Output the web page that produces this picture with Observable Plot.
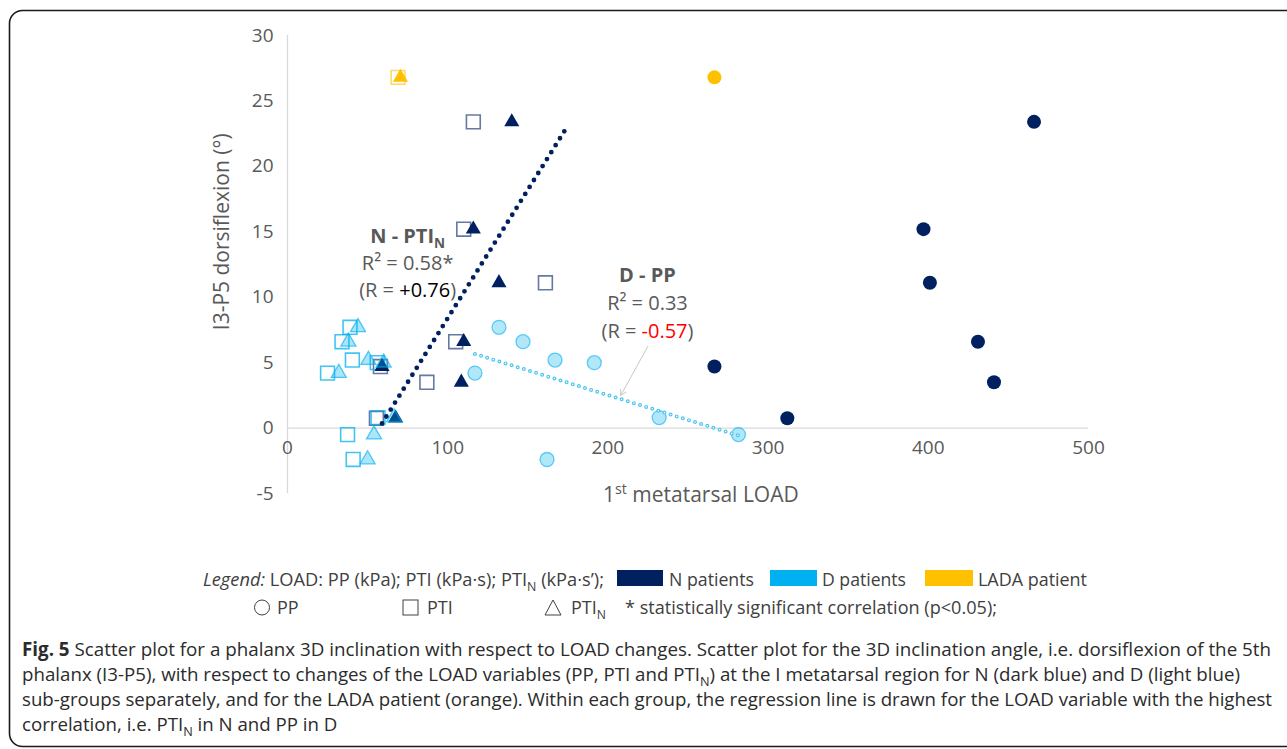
<!DOCTYPE html>
<html><head><meta charset="utf-8">
<script src="https://cdn.jsdelivr.net/npm/d3@7"></script>
<script src="https://cdn.jsdelivr.net/npm/@observablehq/plot@0.6"></script>
<style>
html,body{margin:0;padding:0;background:#fff;width:1287px;height:749px;overflow:hidden;}
#wrap{position:relative;width:1287px;height:749px;}
#chart{position:absolute;left:0;top:0;}
#overlay{position:absolute;left:0;top:0;pointer-events:none;}
</style></head>
<body><div id="wrap"><div id="chart"></div><svg id="overlay" width="1287" height="749"></svg></div>
<script>
// ---------------- data ----------------
// N patients (dark blue)
const dorsiN = [23.4, 15.2, 11.1, 6.6, 3.5, 4.7, 0.75];
const ppN    = [466, 397, 401, 431, 441, 266.5, 312];
const ptiN   = [116, 110, 161, 105, 87, 58, 55.5];
const ptinN  = [140, 116, 132, 110, 108.5, 59, 67.5];
// D patients (light blue)
const dorsiD = [7.7, 6.6, 5.2, 5.0, 4.2, 0.8, -0.5, -2.4];
const ppD    = [132, 147, 167, 191.5, 117, 232, 281.5, 162];
const ptiD   = [39, 34, 40.5, 56, 25, 56.5, 37.5, 41];
const ptinD  = [44, 38, 50.5, 60, 32, 66.5, 54, 50];
// LADA patient (orange)
const dorsiL = [26.8];
const ppL    = [266.5];
const ptiL   = [69];
const ptinL  = [70.5];

const xTicks = [0, 100, 200, 300, 400, 500];
const yTicks = [-5, 0, 5, 10, 15, 20, 25, 30];
const nTrendForward = 33; // forward forecast of N trendline (LOAD units)

const navy = "#002060", light = "#00b0f0", orange = "#ffc000", gray = "#595959";

const rows = (xs, ys) => xs.map((x, i) => ({x, y: ys[i]}));
function linReg(xs, ys) {
  const mx = d3.mean(xs), my = d3.mean(ys);
  const b = d3.sum(xs, (x, i) => (x - mx) * (ys[i] - my)) / d3.sum(xs, x => (x - mx) ** 2);
  return {a: my - b * mx, b};
}
const fitN = linReg(ptinN, dorsiN);
const fitD = linReg(ppD, dorsiD);
const lineN = [d3.min(ptinN), d3.max(ptinN) + nTrendForward].map(x => ({x, y: fitN.a + fitN.b * x}));
const lineD = [d3.min(ppD), d3.max(ppD)].map(x => ({x, y: fitD.a + fitD.b * x}));

const fnt = 20;
const plot = Plot.plot({
  width: 1287, height: 520,
  marginLeft: 287, marginRight: 199, marginTop: 35, marginBottom: 27,
  x: {domain: [0, 500], axis: null},
  y: {domain: [-5, 30]},
  style: {fontFamily: "'Open Sans', sans-serif", background: "transparent", color: gray, overflow: "visible"},
  marks: [
    Plot.ruleY([0], {stroke: "#d9d9d9", strokeWidth: 1.3}),
    Plot.ruleX([0], {stroke: "#d9d9d9", strokeWidth: 1.3}),
    Plot.axisY({ticks: yTicks, tickSize: 0, tickPadding: 14, label: null, fontSize: 19, tickFormat: d => String(d)}),
    Plot.text(xTicks, {x: d => d, y: 0, dy: 20, text: d => String(d), fontSize: 19, fill: gray}),
    Plot.text(["I3-P5 dorsiflexion (°)"], {x: 0, y: 15, dx: -65, rotate: -90, fontSize: 21, fill: gray}),
    Plot.text(["1st metatarsal LOAD"], {x: 258, y: -5, dy: 2, fontSize: 21, fill: gray}),
    // PTI squares
    Plot.dot(rows(ptiN, dorsiN), {x: "x", y: "y", symbol: "square", r: 7.8, fill: "none", stroke: navy, strokeOpacity: 0.6, strokeWidth: 1.6}),
    Plot.dot(rows(ptiD, dorsiD), {x: "x", y: "y", symbol: "square", r: 7.8, fill: "none", stroke: light, strokeOpacity: 0.75, strokeWidth: 1.6}),
    Plot.dot(rows(ptiL, dorsiL), {x: "x", y: "y", symbol: "square", r: 7.8, fill: "none", stroke: orange, strokeOpacity: 0.6, strokeWidth: 1.6}),
    // PTI_N triangles
    Plot.dot(rows(ptinN, dorsiN), {x: "x", y: "y", symbol: "triangle", r: 5.6, fill: navy, stroke: "none"}),
    Plot.dot(rows(ptinD, dorsiD), {x: "x", y: "y", symbol: "triangle", r: 5.6, fill: light, fillOpacity: 0.33, stroke: light, strokeOpacity: 0.65, strokeWidth: 1.3}),
    Plot.dot(rows(ptinL, dorsiL), {x: "x", y: "y", symbol: "triangle", r: 5.6, fill: orange, stroke: "none"}),
    // PP circles
    Plot.dot(rows(ppN, dorsiN), {x: "x", y: "y", r: 7, fill: navy, stroke: "none"}),
    Plot.dot(rows(ppD, dorsiD), {x: "x", y: "y", r: 7, fill: light, fillOpacity: 0.3, stroke: light, strokeOpacity: 0.6, strokeWidth: 1.3}),
    Plot.dot(rows(ppL, dorsiL), {x: "x", y: "y", r: 7, fill: orange, stroke: "none"}),
    // regression lines
    Plot.line(lineN, {x: "x", y: "y", stroke: navy, strokeWidth: 4.8, strokeDasharray: "0 8.2", strokeLinecap: "round"}),
    Plot.line(lineD, {x: "x", y: "y", stroke: "#4cc6f2", strokeWidth: 4, strokeDasharray: "0 6.4", strokeLinecap: "round"}),
    Plot.line(lineD, {x: "x", y: "y", stroke: "#ffffff", strokeWidth: 1.6, strokeDasharray: "0 6.4", strokeLinecap: "round"}),
    // annotations
    Plot.text(["N - PTI_N"], {x: 75, y: 14.65, fontSize: fnt, fontWeight: "bold", fill: gray}),
    Plot.text(["R² = 0.58*"], {x: 75, y: 12.55, fontSize: fnt, fill: gray}),
    Plot.text(["(R = +0.76)"], {x: 75, y: 10.5, fontSize: fnt, fill: gray}),
    Plot.text(["D - PP"], {x: 224.7, y: 11.67, fontSize: fnt, fontWeight: "bold", fill: gray}),
    Plot.text(["R² = 0.33"], {x: 224.7, y: 9.52, fontSize: fnt, fill: gray}),
    Plot.text(["(R = -0.57)"], {x: 224.7, y: 7.38, fontSize: fnt, fill: gray}),
    Plot.arrow([{x1: 225, y1: 6.25, x2: 208, y2: 2.5}], {x1: "x1", y1: "y1", x2: "x2", y2: "y2", stroke: "#c8c8c8", strokeWidth: 1, headLength: 9})
  ]
});
document.getElementById("chart").appendChild(plot);

// rich text (sub/superscripts, coloured parts)
function fillRich(el, segs, size) {
  el.text(null);
  let cur = 0;
  segs.forEach(s => {
    const target = s.sub ? size * 0.28 : s.sup ? -size * 0.38 : 0;
    const ts = el.append("tspan").text(s.t);
    if (target !== cur) ts.attr("dy", target - cur);
    cur = target;
    if (s.sub || s.sup) ts.attr("font-size", size * 0.68);
    if (s.fill) ts.attr("fill", s.fill);
    if (s.bold) ts.attr("font-weight", "bold");
    if (s.italic) ts.attr("font-style", "italic");
  });
}
const richMap = {
  "N - PTI_N": [{t: "N - PTI"}, {t: "N", sub: true}],
  "(R = +0.76)": [{t: "(R = "}, {t: "+0.76", fill: "#000000"}, {t: ")"}],
  "(R = -0.57)": [{t: "(R = "}, {t: "-0.57", fill: "#ff0000"}, {t: ")"}],
  "1st metatarsal LOAD": [{t: "1"}, {t: "st", sup: true}, {t: " metatarsal LOAD"}]
};
d3.select(plot).selectAll("text").each(function () {
  const segs = richMap[this.textContent];
  if (segs) fillRich(d3.select(this), segs, this.textContent === "1st metatarsal LOAD" ? 21 : fnt);
});

// ---------------- border, legend, caption ----------------
const ov = d3.select("#overlay");
ov.append("path")
  .attr("d", "M1287,10.5H22.5A13,13 0 0 0 9.5,23.5V733.5A13,13 0 0 0 22.5,746.5H1287")
  .attr("fill", "none").attr("stroke", "#1a1a1a").attr("stroke-width", 1.6);

function addText(x, y, segs, size, fill, len) {
  const t = ov.append("text").attr("x", x).attr("y", y)
    .attr("font-family", "'Open Sans', sans-serif").attr("font-size", size).attr("fill", fill);
  fillRich(t, segs, size);
  if (len) t.attr("textLength", len).attr("lengthAdjust", "spacingAndGlyphs");
  return t;
}
const lg = "#404040";
addText(203, 586, [{t: "Legend:", italic: true}, {t: " LOAD: PP (kPa); PTI (kPa·s); PTI"}, {t: "N", sub: true}, {t: " (kPa·s’);"}], 18, lg, 401);
const swatches = [
  {c: navy, x: 617, w: 46, label: "N patients", lx: 669, len: 85},
  {c: light, x: 770, w: 47, label: "D patients", lx: 822, len: 84},
  {c: orange, x: 925, w: 48, label: "LADA patient", lx: 978, len: 109}
];
swatches.forEach(s => {
  ov.append("rect").attr("x", s.x).attr("y", 570).attr("width", s.w).attr("height", 16).attr("fill", s.c);
  addText(s.lx, 586, [{t: s.label}], 18, lg, s.len);
});
ov.append("circle").attr("cx", 262).attr("cy", 607.5).attr("r", 7.5).attr("fill", "none").attr("stroke", lg).attr("stroke-width", 1);
addText(277, 614, [{t: "PP"}], 18, lg);
ov.append("rect").attr("x", 403).attr("y", 600).attr("width", 15).attr("height", 15).attr("fill", "none").attr("stroke", lg).attr("stroke-width", 1);
addText(427, 614, [{t: "PTI"}], 18, lg);
ov.append("path").attr("d", "M545,615L561,615L553,600Z").attr("fill", "none").attr("stroke", lg).attr("stroke-width", 1);
addText(571, 614, [{t: "PTI"}, {t: "N", sub: true}], 18, lg);
addText(625, 614, [{t: "* statistically significant correlation (p<0.05);"}], 18, lg, 372);

// caption
const capLines = [
  {segs: [{t: "Fig. 5", bold: true}, {t: " Scatter plot for a phalanx 3D inclination with respect to LOAD changes. Scatter plot for the 3D inclination angle, i.e. dorsiflexion of the 5th"}], y: 656, end: 1271},
  {segs: [{t: "phalanx (I3-P5), with respect to changes of the LOAD variables (PP, PTI and PTI"}, {t: "N", sub: true}, {t: ") at the I metatarsal region for N (dark blue) and D (light blue)"}], y: 681, end: 1240},
  {segs: [{t: "sub-groups separately, and for the LADA patient (orange). Within each group, the regression line is drawn for the LOAD variable with the highest"}], y: 706, end: 1272},
  {segs: [{t: "correlation, i.e. PTI"}, {t: "N", sub: true}, {t: " in N and PP in D"}], y: 731, end: null}
];
const capX = 22;
// fit the caption font size so line 3 spans its measured width
const probe = addText(capX, 706, capLines[2].segs, 19, "#2b2b2b");
const capSize = 19 * (capLines[2].end - capX) / probe.node().getComputedTextLength();
probe.remove();
capLines.forEach(l => {
  const el = addText(capX, l.y, l.segs, capSize, "#2b2b2b");
  if (l.end) el.attr("textLength", l.end - capX).attr("lengthAdjust", "spacingAndGlyphs");
});
</script></body></html>
